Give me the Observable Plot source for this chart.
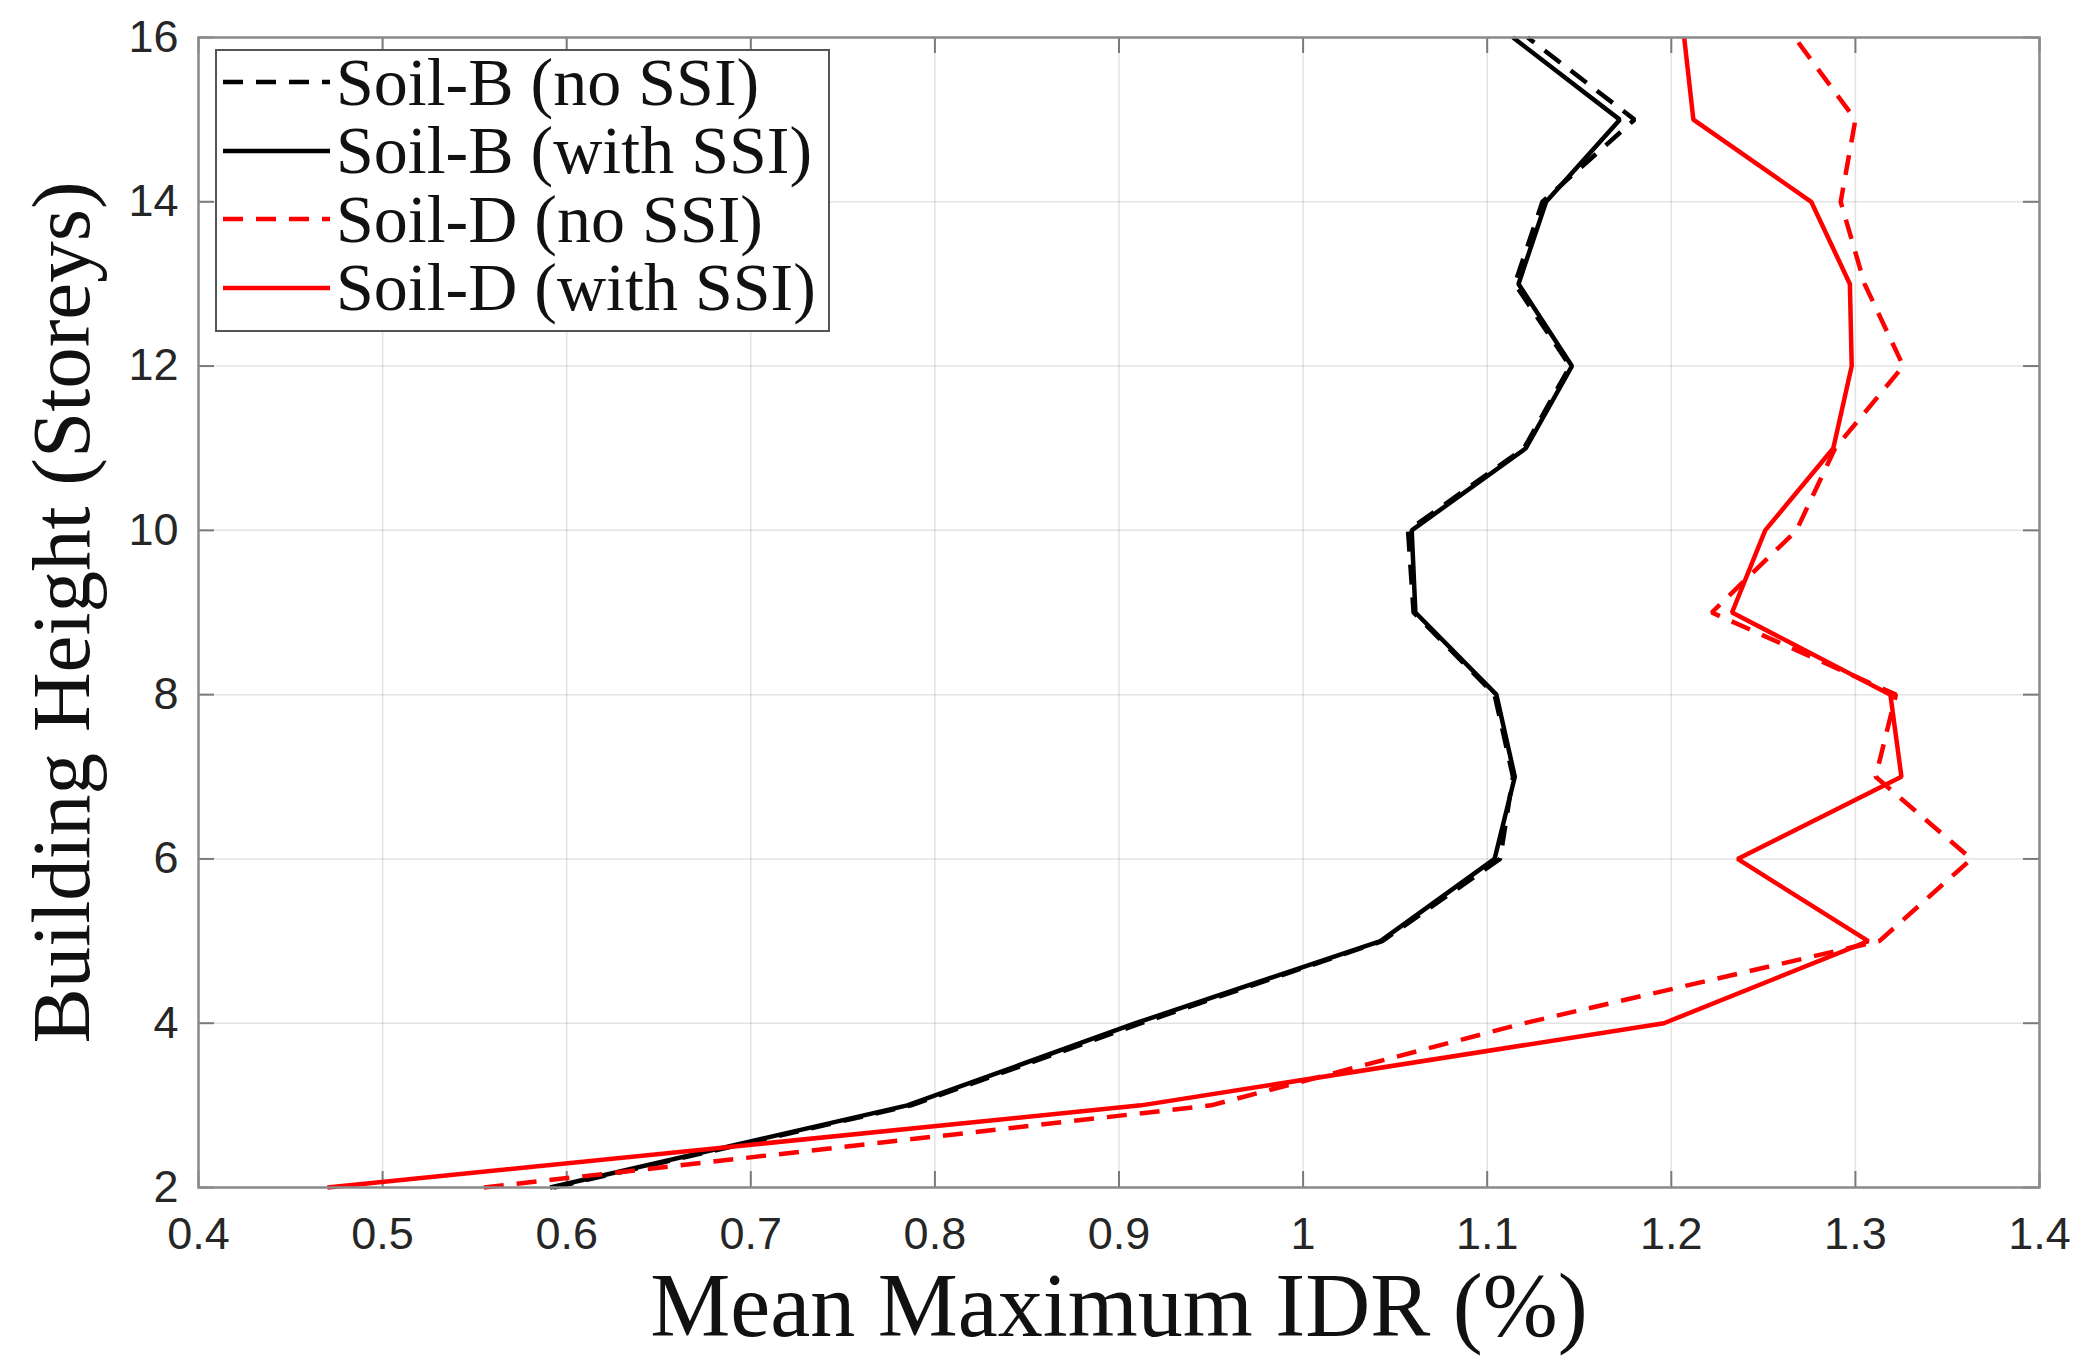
<!DOCTYPE html>
<html>
<head>
<meta charset="utf-8">
<script src="https://cdn.jsdelivr.net/npm/d3@7"></script>
<script src="https://cdn.jsdelivr.net/npm/@observablehq/plot@0.6"></script>
<style>
  html, body { margin: 0; padding: 0; background: #fff; }
  #wrap { position: relative; width: 2094px; height: 1368px; }
  #legend {
    position: absolute; left: 215px; top: 49px; width: 611px; height: 279px;
    border: 2px solid #555; background: #fff; box-sizing: content-box;
    font-family: "Liberation Serif", "Times New Roman", serif; font-size: 68px; color: #111;
  }
  .row { position: absolute; left: 0; height: 68px; display: flex; align-items: center; white-space: nowrap; }
  .row svg { margin-left: 6px; margin-right: 6px; }
</style>
</head>
<body>
<div id="wrap">
  <div id="chart-container"></div>
  <div id="legend"></div>
</div>
<script>
// storeys (y) and mean max IDR (x, %)
const storeys = [2, 3, 4, 5, 6, 7, 8, 9, 10, 11, 12, 13, 14, 15, 16];
const soilBNoSSI   = [0.593, 0.787, 0.912, 1.043, 1.107, 1.114, 1.104, 1.060, 1.057, 1.120, 1.145, 1.115, 1.130, 1.180, 1.122];
const soilBWithSSI = [0.591, 0.785, 0.909, 1.042, 1.104, 1.115, 1.105, 1.061, 1.059, 1.121, 1.146, 1.117, 1.132, 1.172, 1.114];
const soilDNoSSI   = [0.555, 0.950, 1.120, 1.313, 1.363, 1.311, 1.322, 1.222, 1.268, 1.289, 1.326, 1.305, 1.292, 1.300, 1.267];
const soilDWithSSI = [0.470, 0.912, 1.196, 1.307, 1.236, 1.325, 1.319, 1.233, 1.251, 1.288, 1.298, 1.297, 1.276, 1.212, 1.207];

const xTicks = [0.4, 0.5, 0.6, 0.7, 0.8, 0.9, 1.0, 1.1, 1.2, 1.3, 1.4];
const yTicks = [2, 4, 6, 8, 10, 12, 14, 16];

const series = [
  {name: "Soil-B (no SSI)",   values: soilBNoSSI,   color: "#000000", dash: "20,13"},
  {name: "Soil-B (with SSI)", values: soilBWithSSI, color: "#000000", dash: null},
  {name: "Soil-D (no SSI)",   values: soilDNoSSI,   color: "#ff0000", dash: "20,13"},
  {name: "Soil-D (with SSI)", values: soilDWithSSI, color: "#ff0000", dash: null}
];

const W = 2094, H = 1368;
const mL = 198, mR = 55, mT = 37, mB = 181;
const frameW = W - mL - mR, frameH = H - mT - mB;
const tickLen = 16;
const serif = "Liberation Serif, Times New Roman, serif";
const sans = "Liberation Sans, Arial, Helvetica, sans-serif";

const lineMarks = series.map(s =>
  Plot.line(storeys.map((st, i) => ({y: st, x: s.values[i]})), {
    x: "x", y: "y", stroke: s.color, strokeWidth: 4.5,
    strokeDasharray: s.dash, strokeLinejoin: "miter", strokeLinecap: "butt"
  })
);

const plot = Plot.plot({
  width: W,
  height: H,
  marginLeft: mL, marginRight: mR, marginTop: mT, marginBottom: mB,
  style: {background: "#fff", color: "#262626"},
  x: {domain: [0.4, 1.4], ticks: xTicks},
  y: {domain: [2, 16], ticks: yTicks},
  marks: [
    Plot.gridX(xTicks, {stroke: "#262626", strokeOpacity: 0.13, strokeWidth: 1.5}),
    Plot.gridY(yTicks, {stroke: "#262626", strokeOpacity: 0.13, strokeWidth: 1.5}),
    // inward ticks on all four sides
    Plot.tickX(xTicks, {x: d => d, stroke: "#7a7a7a", strokeWidth: 2, insetTop: frameH - tickLen}),
    Plot.tickX(xTicks, {x: d => d, stroke: "#7a7a7a", strokeWidth: 2, insetBottom: frameH - tickLen}),
    Plot.tickY(yTicks, {y: d => d, stroke: "#7a7a7a", strokeWidth: 2, insetRight: frameW - tickLen}),
    Plot.tickY(yTicks, {y: d => d, stroke: "#7a7a7a", strokeWidth: 2, insetLeft: frameW - tickLen}),
    Plot.axisX(xTicks, {
      tickSize: 0, tickPadding: 30, label: null, fontSize: 45, fontFamily: sans, fill: "#262626",
      tickFormat: d => String(+d.toFixed(1))
    }),
    Plot.axisY(yTicks, {
      tickSize: 0, tickPadding: 20, label: null, fontSize: 45, fontFamily: sans, fill: "#262626",
      tickFormat: d => String(d)
    }),
    ...lineMarks,
    Plot.frame({stroke: "#8a8a8a", strokeWidth: 2.5}),
    Plot.text(["Mean Maximum IDR (%)"], {
      frameAnchor: "bottom", lineAnchor: "middle", textAnchor: "middle", dy: 120,
      fontSize: 90, fontFamily: serif, fill: "#111"
    }),
    Plot.text(["Building Height (Storeys)"], {
      frameAnchor: "left", lineAnchor: "middle", textAnchor: "middle", dx: -136, rotate: -90,
      fontSize: 83, fontFamily: serif, fill: "#111"
    })
  ]
});

document.getElementById("chart-container").appendChild(plot);

// legend box inside the axes, top-left
const legend = document.getElementById("legend");
series.forEach((s, i) => {
  const row = document.createElement("div");
  row.className = "row";
  row.style.top = (i * 68.5 - 3) + "px";
  const ns = "http://www.w3.org/2000/svg";
  const svg = document.createElementNS(ns, "svg");
  svg.setAttribute("width", 107);
  svg.setAttribute("height", 20);
  const ln = document.createElementNS(ns, "line");
  ln.setAttribute("x1", 0); ln.setAttribute("x2", 107);
  ln.setAttribute("y1", 10); ln.setAttribute("y2", 10);
  ln.setAttribute("stroke", s.color);
  ln.setAttribute("stroke-width", 4.5);
  if (s.dash) ln.setAttribute("stroke-dasharray", "20,13");
  svg.appendChild(ln);
  row.appendChild(svg);
  const label = document.createElement("span");
  label.textContent = s.name;
  row.appendChild(label);
  legend.appendChild(row);
});
</script>
</body>
</html>
